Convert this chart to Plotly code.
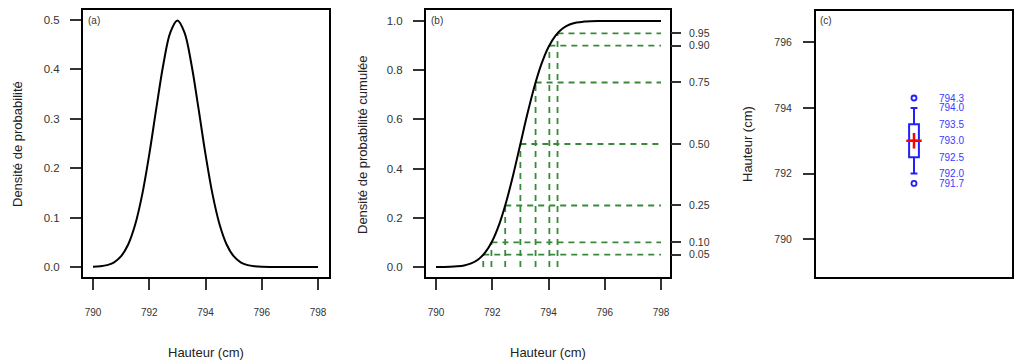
import plotly.graph_objects as go

# ---------------- data ----------------
x_grid = [790.0, 790.25, 790.5, 790.75, 791.0, 791.25, 791.5, 791.75, 792.0, 792.25,
          792.5, 792.75, 793.0, 793.25, 793.5, 793.75, 794.0, 794.25, 794.5, 794.75,
          795.0, 795.25, 795.5, 795.75, 796.0, 796.5, 797.0, 797.5, 798.0]
density = [0.0004, 0.0014, 0.0038, 0.0096, 0.0219, 0.0456, 0.086, 0.147, 0.228, 0.321,
           0.410, 0.475, 0.499, 0.475, 0.410, 0.321, 0.228, 0.147, 0.086, 0.0456,
           0.0219, 0.0096, 0.0038, 0.0014, 0.0004, 0.0, 0.0, 0.0, 0.0]
cumul = [0.0001, 0.0003, 0.0009, 0.0025, 0.0062, 0.0144, 0.0304, 0.0591, 0.1056, 0.1743,
         0.266, 0.3773, 0.5, 0.6227, 0.734, 0.8257, 0.8944, 0.9409, 0.9696, 0.9856,
         0.9938, 0.9975, 0.9991, 0.9997, 0.9999, 1.0, 1.0, 1.0, 1.0]

probs = [0.05, 0.10, 0.25, 0.50, 0.75, 0.90, 0.95]
prob_labels = ["0.05", "0.10", "0.25", "0.50", "0.75", "0.90", "0.95"]
quantiles = [791.68, 791.97, 792.46, 793.0, 793.54, 794.03, 794.32]

box_stats = {"lowerfence": 792.0, "q1": 792.5, "median": 793.0, "q3": 793.5,
             "upperfence": 794.0, "mean": 793.0}
outliers = [794.3, 791.7]
box_labels = ["794.3", "794.0", "793.5", "793.0", "792.5", "792.0", "791.7"]
box_label_vals = [794.3, 794.0, 793.5, 793.0, 792.5, 792.0, 791.7]

x_ticks = [790, 792, 794, 796, 798]
xmax = 798.0

# ---------------- figure ----------------
W, H = 1033, 361
OFF = 8  # page body margin
def fx(px):
    return (px - OFF) / W
def fy(py):
    return 1 - (py - OFF) / H

FONT = "Liberation Sans, Arial, sans-serif"
GREEN = "#38893a"
BLUE = "#2020ff"

fig = go.Figure()

# Panel (a)
fig.add_trace(go.Scatter(x=x_grid, y=density, mode="lines", line=dict(color="black", width=2, shape="spline"),
                         xaxis="x", yaxis="y", showlegend=False))

# Panel (b) dashed guides
gx, gy = [], []
for q, p in zip(quantiles, probs):
    gx += [q, q, None, q, xmax, None]
    gy += [0, p, None, p, p, None]
fig.add_trace(go.Scatter(x=gx, y=gy, mode="lines", line=dict(color=GREEN, width=1.8, dash="6px,5px"),
                         xaxis="x2", yaxis="y2", showlegend=False))
fig.add_trace(go.Scatter(x=x_grid, y=cumul, mode="lines", line=dict(color="black", width=2, shape="spline"),
                         xaxis="x2", yaxis="y2", showlegend=False))
# invisible trace so the right-hand probability axis is drawn
fig.add_trace(go.Scatter(x=[xmax] * len(probs), y=probs, mode="markers", marker=dict(opacity=0),
                         xaxis="x2", yaxis="y3", showlegend=False, hoverinfo="skip"))

# Panel (c) boxplot
fig.add_trace(go.Box(x=[1], q1=[box_stats["q1"]], median=[box_stats["median"]], q3=[box_stats["q3"]],
                     lowerfence=[box_stats["lowerfence"]], upperfence=[box_stats["upperfence"]],
                     width=0.1, whiskerwidth=0.7, line=dict(color=BLUE, width=2), fillcolor="rgba(0,0,0,0)",
                     boxpoints=False, xaxis="x4", yaxis="y4", showlegend=False, hoverinfo="skip"))
fig.add_trace(go.Scatter(x=[1] * len(outliers), y=outliers, mode="markers",
                         marker=dict(symbol="circle-open", size=5, color=BLUE, line=dict(width=1.8, color=BLUE)),
                         xaxis="x4", yaxis="y4", showlegend=False))
fig.add_trace(go.Scatter(x=[1], y=[box_stats["mean"]], mode="markers",
                         marker=dict(symbol="cross-thin", size=11, line=dict(width=2.5, color="red")),
                         xaxis="x4", yaxis="y4", showlegend=False))

def tf(size):
    return dict(family=FONT, size=size, color="#333333")

common = dict(showgrid=False, zeroline=False, showline=True, mirror=True, linecolor="black", linewidth=2,
              ticks="outside", tickcolor="#333333", tickwidth=2, ticklen=11)

fig.update_layout(
    width=W, height=H, margin=dict(l=0, r=0, t=0, b=0),
    paper_bgcolor="white", plot_bgcolor="white",
    xaxis=dict(domain=[fx(83), fx(329)], range=[789.644, 798.39], anchor="y",
               tickvals=x_ticks, ticklabelstandoff=14, tickfont=tf(10), **common),
    yaxis=dict(domain=[fy(277), fy(10)], range=[-0.0202, 0.5202], anchor="x",
               tickvals=[0, 0.1, 0.2, 0.3, 0.4, 0.5], tickformat=".1f", ticklabelstandoff=8,
               tickfont=tf(11.5), **common),
    xaxis2=dict(domain=[fx(426), fx(670)], range=[789.644, 798.32], anchor="y2",
                tickvals=x_ticks, ticklabelstandoff=14, tickfont=tf(10), **common),
    yaxis2=dict(domain=[fy(277), fy(10)], range=[-0.0407, 1.0447], anchor="x2",
                tickvals=[0, 0.2, 0.4, 0.6, 0.8, 1.0], tickformat=".1f", ticklabelstandoff=8,
                tickfont=tf(11.5), **common),
    yaxis3=dict(overlaying="y2", side="right", anchor="x2", range=[-0.0407, 1.0447],
                tickvals=probs, ticktext=prob_labels, showgrid=False, zeroline=False, showline=False,
                ticks="outside", tickcolor="#333333", tickwidth=2, ticklen=10, tickfont=tf(10.5),
                ticklabelstandoff=6),
    xaxis4=dict(domain=[fx(816), fx(1012)], range=[0, 2], anchor="y4", showticklabels=False, ticks="",
                showgrid=False, zeroline=False, showline=True, mirror=True, linecolor="black", linewidth=2),
    yaxis4=dict(domain=[fy(277), fy(11)], range=[788.85, 796.95], anchor="x4",
                tickvals=[790, 792, 794, 796], ticklabelstandoff=9, tickfont=tf(10.5), **common),
)

ann = []
title_font = dict(family=FONT, size=13, color="#222222")
def title(text, xp, yp, angle=0):
    return dict(text=text, x=fx(xp), y=fy(yp), xref="paper", yref="paper", showarrow=False,
                xanchor="center", yanchor="middle", textangle=angle, font=title_font)
ann.append(title("Hauteur (cm)", 206, 352))
ann.append(title("Hauteur (cm)", 548, 352))
ann.append(title("Densité de probabilité", 18, 144, -90))
ann.append(title("Densité de probabilité cumulée", 363, 145, -90))
ann.append(title("Hauteur (cm)", 748, 144, -90))
small = dict(family=FONT, size=10, color="#333333")
for lab, xp in [("(a)", 86), ("(b)", 429), ("(c)", 818)]:
    ann.append(dict(text=lab, x=fx(xp), y=fy(21), xref="paper", yref="paper", xanchor="left", yanchor="middle",
                    showarrow=False, font=small))
for lab, v in zip(box_labels, box_label_vals):
    ann.append(dict(text=lab, x=1.23, y=v, xref="x4", yref="y4", xanchor="left", yanchor="middle",
                    showarrow=False, font=dict(family=FONT, size=10, color="#3a3aff")))
fig.update_layout(annotations=ann)

fig.write_html("out.html")
